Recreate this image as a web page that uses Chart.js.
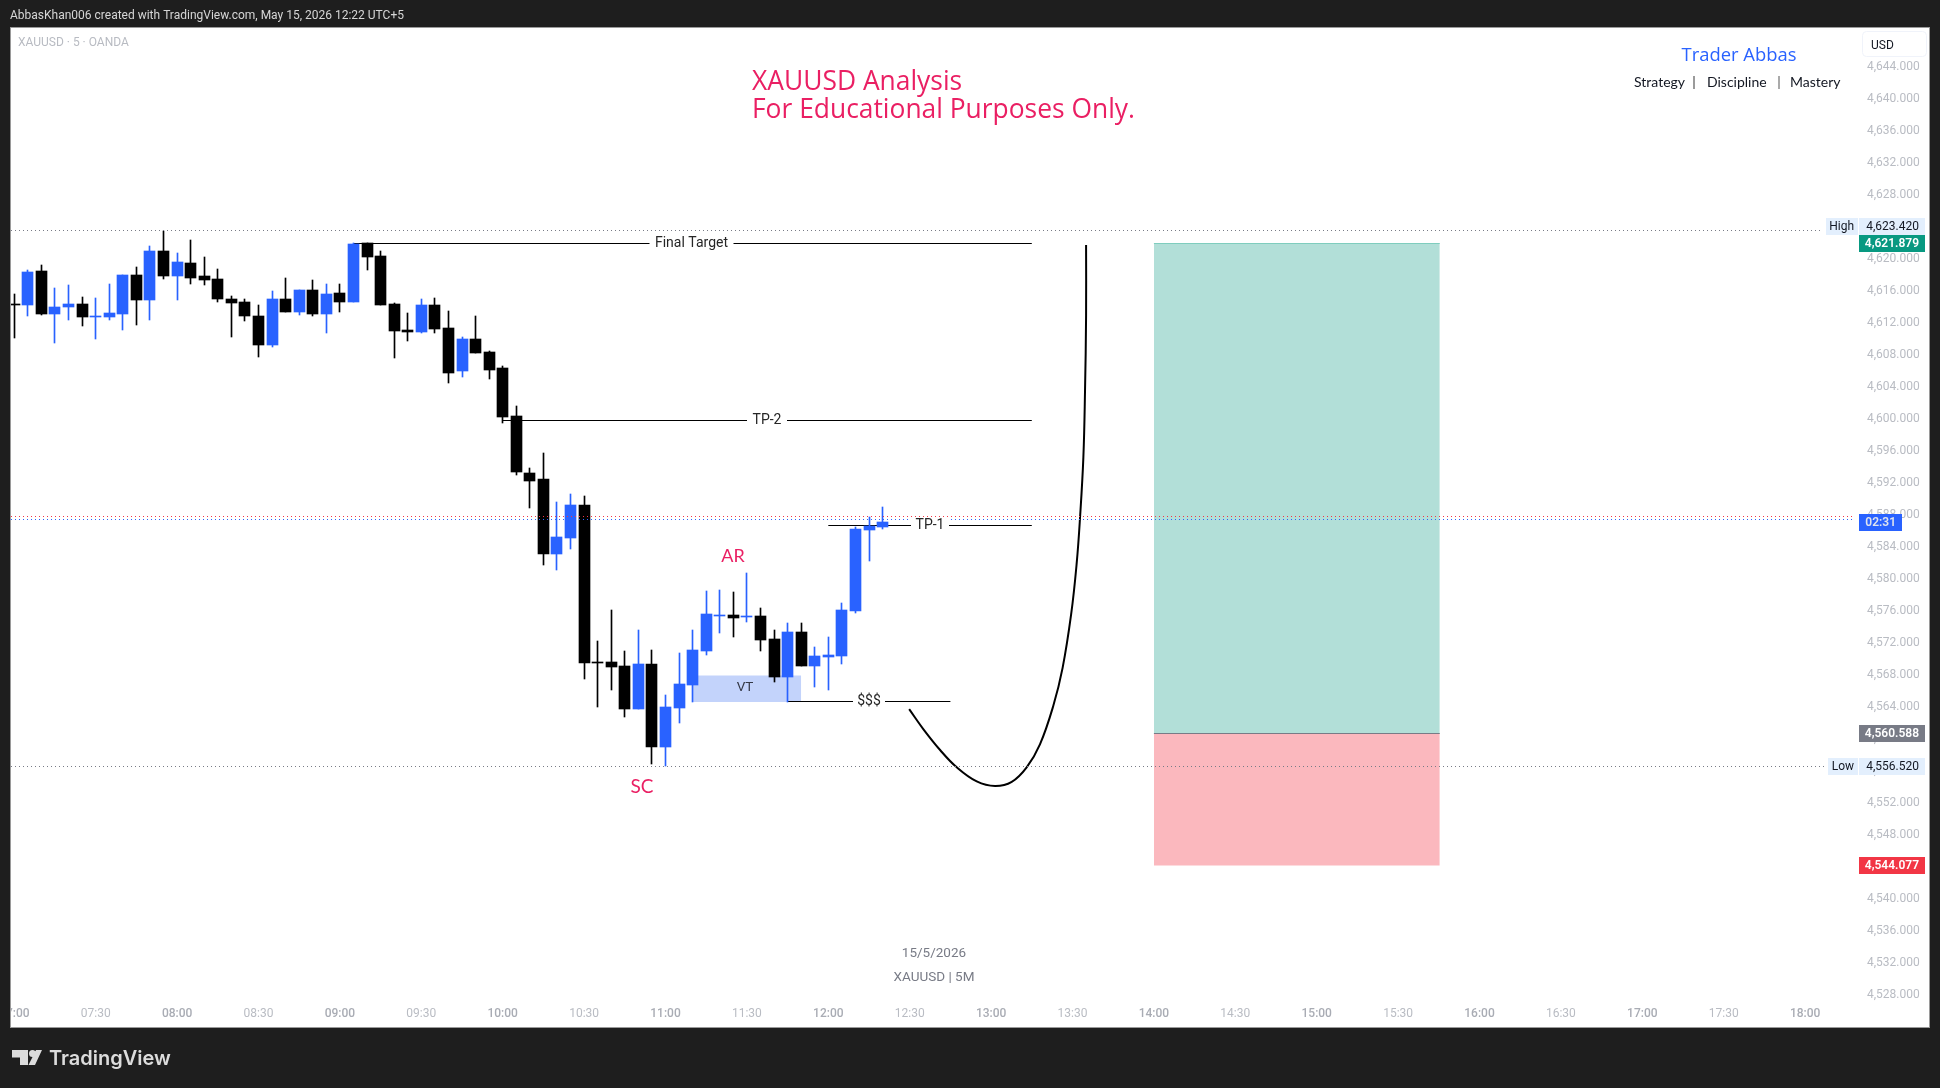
<!DOCTYPE html>
<html>
<head>
  <meta charset="UTF-8">
  <title>XAUUSD Analysis</title>
  <script src="https://cdn.jsdelivr.net/npm/chart.js"></script>
  <style>
    html, body { margin: 0; background: #1e1e1e; overflow: hidden; }
    canvas { display: block; }
  </style>
</head>
<body>
  <canvas id="plot" width="1940" height="1088"></canvas>

  <script>
    // 5 minute candles, index 0 = 07:00
    const opens = [4614.29,4614.17,4618.42,4613.04,4613.92,4614.29,4612.67,4612.67,4613.04,4617.92,4614.79,4620.92,4617.79,4619.42,4617.79,4617.42,4614.92,4614.54,4612.79,4609.17,4614.92,4613.29,4616.04,4613.04,4615.67,4614.54,4621.87,4620.29,4614.29,4611.04,4610.79,4614.17,4611.29,4605.92,4609.92,4608.29,4606.29,4600.29,4593.17,4592.42,4583.04,4585.04,4589.17,4569.54,4569.54,4569.04,4563.67,4569.29,4558.92,4563.79,4566.67,4570.92,4575.29,4575.42,4575.17,4575.29,4572.42,4567.67,4573.29,4569.04,4570.17,4570.29,4575.92,4586.04,4586.42];
    const highs = [4615.54,4618.54,4619.17,4616.29,4616.67,4615.17,4615.04,4616.79,4617.92,4618.92,4621.54,4623.42,4620.67,4622.29,4620.17,4618.67,4615.29,4614.92,4614.17,4615.92,4617.54,4616.04,4617.29,4616.79,4616.79,4621.92,4621.92,4620.92,4614.42,4613.17,4614.92,4615.04,4613.42,4610.17,4612.79,4608.42,4606.54,4601.54,4593.79,4595.67,4589.54,4590.54,4590.29,4572.17,4576.04,4570.92,4573.54,4571.04,4565.42,4570.67,4573.54,4578.42,4578.54,4578.29,4580.67,4576.29,4573.54,4574.42,4574.42,4571.42,4572.67,4576.92,4586.42,4587.67,4588.92];
    const lows = [4610.08,4612.79,4612.92,4609.42,4612.29,4611.54,4609.92,4612.29,4611.04,4611.67,4612.29,4617.42,4614.79,4616.79,4616.67,4614.54,4610.17,4612.17,4607.67,4608.92,4613.29,4612.92,4612.79,4610.67,4613.29,4614.54,4618.54,4614.17,4607.54,4609.67,4610.67,4610.67,4604.42,4605.17,4608.17,4604.92,4599.42,4592.92,4588.79,4581.67,4581.04,4583.67,4567.42,4563.92,4566.04,4562.67,4563.67,4556.79,4556.54,4561.92,4564.54,4570.42,4573.17,4572.67,4574.54,4570.92,4567.04,4564.54,4569.04,4566.42,4566.04,4569.29,4575.67,4582.17,4586.17];
    const closes = [4614.17,4618.29,4613.04,4613.92,4614.29,4612.67,4612.79,4613.17,4617.92,4614.79,4620.92,4617.79,4619.54,4617.54,4617.29,4614.92,4614.42,4612.79,4609.17,4614.92,4613.29,4616.04,4613.04,4615.54,4614.54,4621.79,4620.17,4614.17,4610.92,4610.79,4614.17,4611.17,4605.67,4609.92,4608.17,4606.04,4600.17,4593.29,4592.17,4583.04,4585.17,4589.17,4569.42,4569.42,4568.92,4563.67,4569.29,4558.92,4563.92,4566.79,4571.04,4575.54,4575.42,4575.04,4575.29,4572.29,4567.67,4573.29,4569.04,4570.29,4570.42,4576.04,4586.17,4586.54,4587.04];

    const timeLabels = ['07:00','07:30','08:00','08:30','09:00','09:30','10:00','10:30','11:00','11:30','12:00','12:30','13:00','13:30','14:00','14:30','15:00','15:30','16:00','16:30','17:00','17:30','18:00'];
    const priceTicks = [4528,4532,4536,4540,4544,4548,4552,4556,4560,4564,4568,4572,4576,4580,4584,4588,4592,4596,4600,4604,4608,4612,4616,4620,4624,4628,4632,4636,4640,4644];

    // drawing tools on the chart: [from candle, to candle, price]
    const finalTarget = [25, 75, 4621.87];
    const tp2 = [36, 75, 4599.75];
    const tp1 = [60, 75, 4586.62];
    const liquidity = [57, 69, 4564.62];
    const vtZone = [50, 58, 4564.54, 4567.91];
    const positionX = [84, 105.07];
    const entry = 4560.588, target = 4621.879, stop = 4544.077;
    const highPrice = 4623.42, lowPrice = 4556.52, lastRed = 4587.75, lastBlue = 4587.37;

    const pathX = [65.96,67.0,68.24,69.47,70.94,72.29,73.52,74.62,75.6,76.58,77.27,77.9,78.3,78.55,78.8,78.92,79.0,79.0];
    const pathY = [4563.65,4561.16,4558.54,4556.37,4554.61,4554.04,4554.56,4556.37,4559.25,4564.04,4568.81,4575.51,4581.74,4587.47,4595.12,4603.26,4612.82,4621.67];

    const BLUE = '#2962ff', PINK = '#ea1f63', UI = 'Roboto, sans-serif', TV = 'Lato, sans-serif', TITLE = '"Open Sans", sans-serif';
    const DARK = '#1e1e1e', EDGE = '#9a9a9a';
    const X_MIN = -0.243, X_MAX = 135.75, Y_MIN = 4527.29, Y_MAX = 4648.79;

    const candleColors = closes.map((c, i) => c > opens[i] ? BLUE : '#000000');
    const bars = (lo, hi, thick, order) => ({
      type: 'bar', grouped: false, barThickness: thick, order, snapBar: true,
      data: lo.map((v, i) => ({ x: i, y: [v, hi[i]] })),
      backgroundColor: candleColors, borderWidth: 0
    });
    const hline = (x0, x1, y, color, extra) => Object.assign({
      type: 'line', data: [{ x: x0, y }, { x: x1, y }], borderColor: color, borderWidth: 1,
      pointRadius: 0, fill: false, order: 3, snapLine: true
    }, extra);
    const zone = (x0, x1, y, base, color) => hline(x0, x1, y, 'rgba(0,0,0,0)', {
      borderWidth: 0, order: 5, backgroundColor: color,
      fill: { target: { value: base }, above: color, below: color }
    });
    const pixelToX = px => (px - 14.3) / 13.567;
    const dotted = { borderDash: [1, 3], order: 0 };

    const datasets = [
      zone(positionX[0], positionX[1], target, entry, '#b2dfd8'),
      zone(positionX[0], positionX[1], stop, entry, '#fbb8be'),
      zone(vtZone[0], vtZone[1], vtZone[3], vtZone[2], '#c3d3fb'),
      hline(positionX[0], positionX[1], target, '#7fcdbe'),
      hline(positionX[0], positionX[1], entry, '#787b86'),
      hline(finalTarget[0], finalTarget[1], finalTarget[2], '#000000'),
      hline(tp2[0], tp2[1], tp2[2], '#000000'),
      hline(tp1[0], tp1[1], tp1[2], '#000000'),
      hline(liquidity[0], liquidity[1], liquidity[2], '#000000'),
      {
        type: 'line', data: pathX.map((x, i) => ({ x, y: pathY[i] })), borderColor: '#000000',
        borderWidth: 2, tension: 0.4, pointRadius: 0, fill: false, order: 3
      },
      bars(lows, highs, 1, 2),
      bars(opens.map((o, i) => Math.min(o, closes[i])), opens.map((o, i) => Math.max(o, closes[i])), 11, 1),
      hline(X_MIN, pixelToX(1823), highPrice, '#787b86', dotted),
      hline(X_MIN, pixelToX(1827), lowPrice, '#787b86', dotted),
      hline(X_MIN, pixelToX(1855), lastRed, '#f23645', dotted),
      hline(X_MIN, pixelToX(1855), lastBlue, BLUE, dotted)
    ];

    function label(ctx, text, x, y, font, color, align) {
      ctx.font = font;
      ctx.fillStyle = color;
      ctx.textAlign = align || 'left';
      ctx.textBaseline = 'middle';
      ctx.fillText(text, x, y);
    }
    function lineLabel(ctx, text, x, y, gap) {
      ctx.fillStyle = '#ffffff';
      ctx.fillRect(x - gap / 2, y - 6, gap, 12);
      label(ctx, text, x, y, '14px ' + UI, '#262626', 'center');
    }
    function priceBox(ctx, x0, x1, y0, y1, bg, text, color, bold, textX) {
      ctx.fillStyle = bg;
      ctx.fillRect(x0, y0, x1 - x0, y1 - y0);
      label(ctx, text, textX, (y0 + y1) / 2, (bold ? '600 ' : '') + '12px ' + UI, color, 'right');
    }

    const frame = {
      id: 'frame',
      beforeDraw(chart) {
        const ctx = chart.ctx;
        ctx.save();
        ctx.fillStyle = '#ffffff';
        ctx.fillRect(11, 28, 1918, 999);
        ctx.restore();
      },
      // TradingView keeps its marks on whole pixels
      afterDatasetsUpdate(chart) {
        chart.data.datasets.forEach((d, i) => {
          chart.getDatasetMeta(i).data.forEach(el => {
            if (d.snapBar) {
              el.x = Math.floor(el.x) + 0.5;
              el.y = Math.round(el.y);
              el.base = Math.round(el.base);
              if (el.base === el.y) el.base = el.y + 1;
            }
            if (d.snapLine) el.y = Math.floor(el.y) + 0.5;
          });
        });
      },
      afterDraw(chart) {
        const ctx = chart.ctx;
        ctx.save();
        // dark window around the chart, this also cuts the 07:00 label
        ctx.fillStyle = DARK;
        ctx.fillRect(0, 0, 1940, 27);
        ctx.fillRect(0, 1028, 1940, 60);
        ctx.fillRect(0, 0, 10, 1088);
        ctx.fillRect(1930, 0, 10, 1088);
        ctx.fillStyle = EDGE;
        ctx.fillRect(10, 27, 1920, 1);
        ctx.fillRect(10, 1027, 1920, 1);
        ctx.fillRect(10, 27, 1, 1001);
        ctx.fillRect(1929, 27, 1, 1001);

        label(ctx, 'AbbasKhan006 created with TradingView.com, May 15, 2026 12:22 UTC+5', 10, 16, '12px ' + UI, '#d6d6d6');
        label(ctx, 'XAUUSD · 5 · OANDA', 18, 43, '12px ' + UI, '#b8bbc2');

        label(ctx, 'XAUUSD Analysis', 752, 82, '26.4px ' + TITLE, PINK);
        label(ctx, 'For Educational Purposes Only.', 752, 110, '26.4px ' + TITLE, PINK);
        label(ctx, 'Trader Abbas', 1739, 56, '18.4px ' + TITLE, BLUE, 'center');
        label(ctx, 'Strategy', 1634, 82.5, '14px ' + TV, '#131722');
        label(ctx, '|', 1694, 82.5, '14px ' + TV, '#333333', 'center');
        label(ctx, 'Discipline', 1707, 82.5, '14px ' + TV, '#131722');
        label(ctx, '|', 1779, 82.5, '14px ' + TV, '#555555', 'center');
        label(ctx, 'Mastery', 1790, 82.5, '14px ' + TV, '#131722');

        ctx.strokeStyle = '#f0f3fa';
        ctx.lineWidth = 1;
        ctx.beginPath();
        ctx.roundRect(1862.5, 31.5, 64, 25, 4);
        ctx.fillStyle = '#ffffff';
        ctx.fill();
        ctx.stroke();
        label(ctx, 'USD', 1871, 46, '12px ' + UI, '#131722');

        lineLabel(ctx, 'Final Target', 691.5, 243, 84);
        lineLabel(ctx, 'TP-2', 767, 420, 40);
        lineLabel(ctx, 'TP-1', 930, 525, 38);
        lineLabel(ctx, '$$$', 869, 701.5, 32);
        label(ctx, 'VT', 745, 688, '13.5px ' + UI, '#333745', 'center');
        label(ctx, 'AR', 733, 556, '18px ' + TV, PINK, 'center');
        label(ctx, 'SC', 642, 787, '19px ' + TV, PINK, 'center');

        label(ctx, '15/5/2026', 934, 954, '13.5px ' + UI, '#787b86', 'center');
        label(ctx, 'XAUUSD | 5M', 934, 977.5, '13.5px ' + UI, '#787b86', 'center');

        priceBox(ctx, 1826, 1858, 218, 235, '#e3effd', 'High', '#131722', false, 1854);
        priceBox(ctx, 1859, 1925, 218, 235, '#e3effd', '4,623.420', '#131722', false, 1919);
        priceBox(ctx, 1859, 1925, 235, 252, '#089981', '4,621.879', '#ffffff', true, 1919);
        priceBox(ctx, 1859, 1902, 514, 531, BLUE, '02:31', '#dfe3ee', true, 1896);
        priceBox(ctx, 1859, 1925, 725, 742, '#787b86', '4,560.588', '#ffffff', true, 1919);
        priceBox(ctx, 1828, 1858, 758, 775, '#e3effd', 'Low', '#131722', false, 1854);
        priceBox(ctx, 1859, 1925, 758, 775, '#e3effd', '4,556.520', '#131722', false, 1919);
        priceBox(ctx, 1859, 1925, 857, 874, '#f23645', '4,544.077', '#ffffff', true, 1919);

        // TradingView mark
        ctx.fillStyle = '#dcdcdc';
        ctx.beginPath();
        ctx.moveTo(12, 1050); ctx.lineTo(28, 1050); ctx.lineTo(28, 1065);
        ctx.lineTo(20, 1065); ctx.lineTo(20, 1057.5); ctx.lineTo(12, 1057.5);
        ctx.closePath();
        ctx.moveTo(36, 1050); ctx.lineTo(42, 1050); ctx.lineTo(35, 1065); ctx.lineTo(28.5, 1065);
        ctx.closePath();
        ctx.moveTo(36, 1053.5); ctx.arc(32.5, 1053.5, 3.5, 0, Math.PI * 2);
        ctx.fill();
        label(ctx, 'TradingView', 49, 1059, '600 20px Inter, sans-serif', '#dcdcdc');
        ctx.restore();
      }
    };

    new Chart(document.getElementById('plot'), {
      type: 'bar',
      data: { datasets },
      plugins: [frame],
      options: {
        responsive: false,
        animation: false,
        devicePixelRatio: 1,
        layout: { padding: { left: 11, top: 28, right: 11, bottom: 61 } },
        plugins: { legend: { display: false }, tooltip: { enabled: false } },
        scales: {
          x: {
            type: 'linear', offset: false, min: X_MIN, max: X_MAX,
            grid: { display: false, drawTicks: false }, border: { display: false },
            afterBuildTicks: s => { s.ticks = timeLabels.map((t, i) => ({ value: i * 6 })); },
            afterFit: s => { s.height = 27; s.paddingLeft = 0; s.paddingRight = 0; },
            ticks: {
              autoSkip: false, maxRotation: 0, minRotation: 0, padding: 7,
              callback: v => timeLabels[v / 6],
              color: c => c.tick && c.tick.value % 12 === 0 ? '#a9acb4' : '#b9bcc3',
              font: c => ({ family: UI, size: 12, weight: c.tick && c.tick.value % 12 === 0 ? '500' : '400' })
            }
          },
          y: {
            position: 'right', min: Y_MIN, max: Y_MAX,
            grid: { display: false, drawTicks: false }, border: { display: false },
            afterBuildTicks: s => { s.ticks = priceTicks.map(value => ({ value })); },
            afterFit: s => { s.width = 73; s.paddingTop = 0; s.paddingBottom = 0; },
            ticks: {
              padding: 11, labelOffset: 1, color: '#b9bcc3', font: { family: UI, size: 12 },
              callback: v => v.toLocaleString('en-US', { minimumFractionDigits: 3 })
            }
          }
        }
      }
    });
  </script>
</body>
</html>
